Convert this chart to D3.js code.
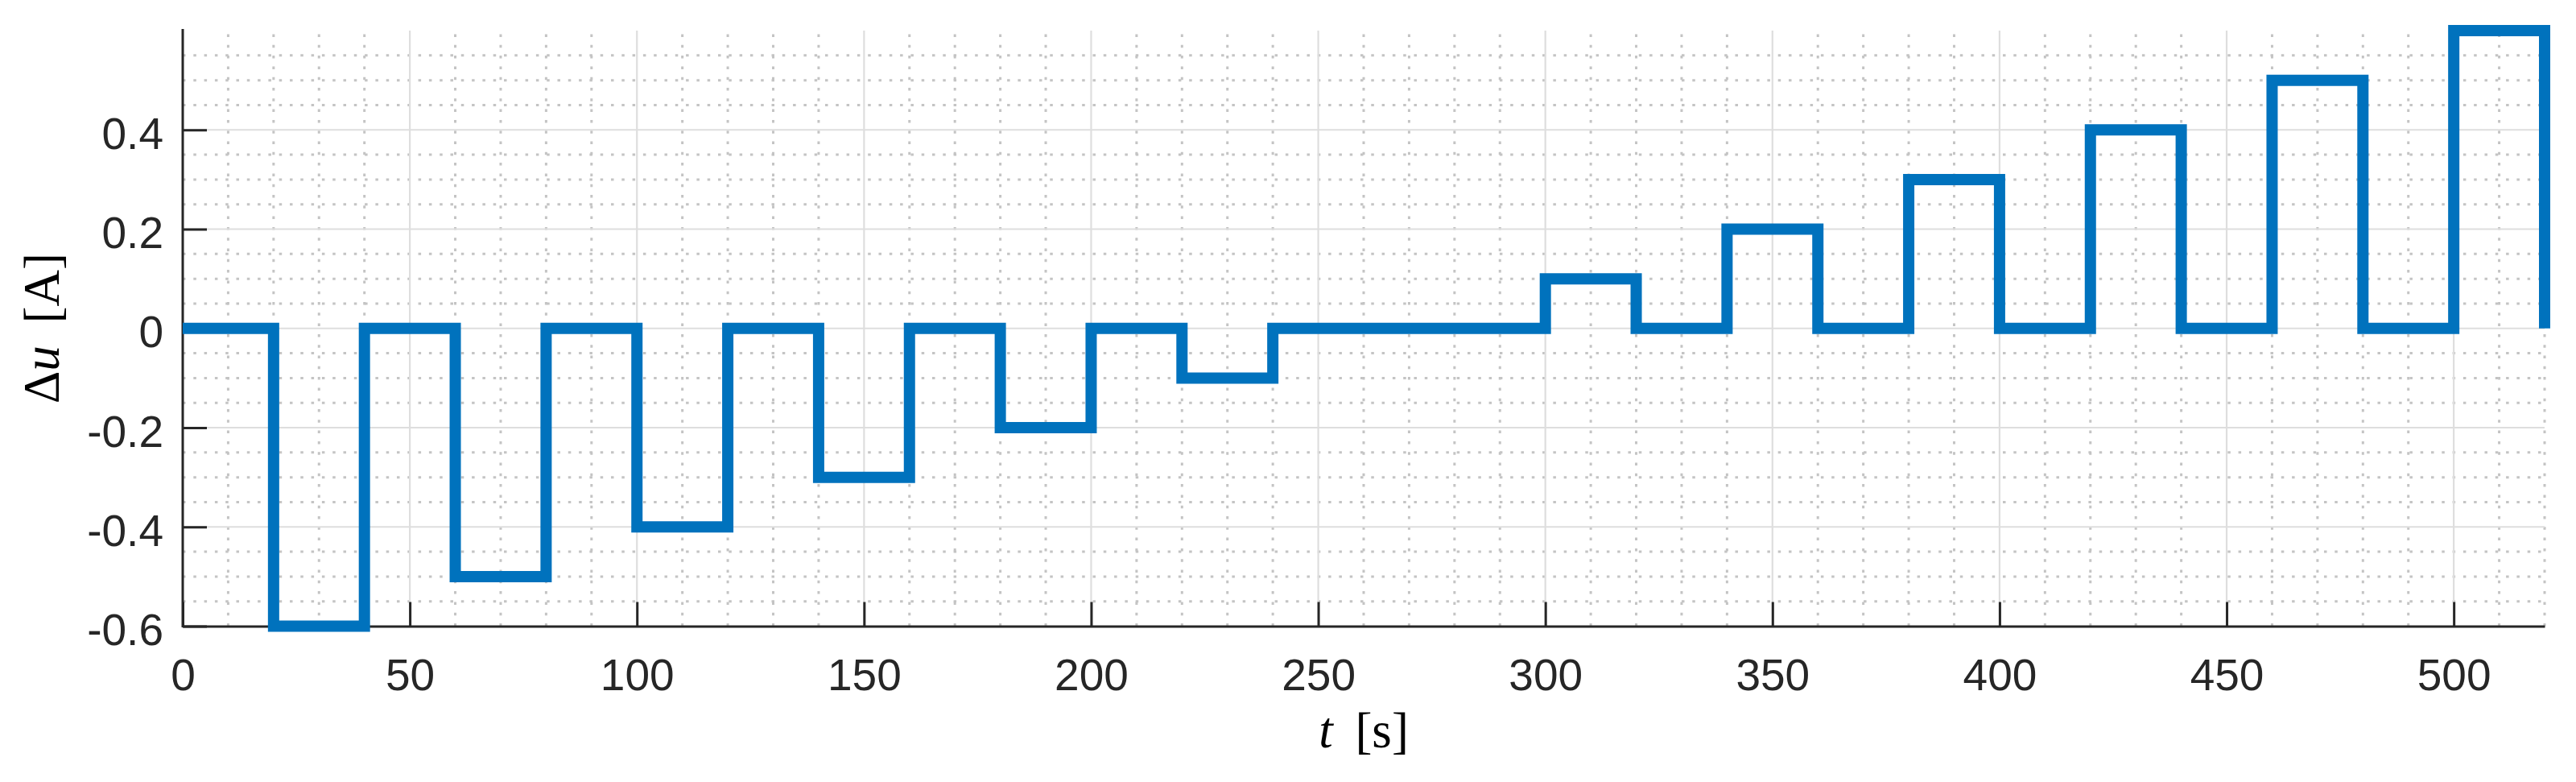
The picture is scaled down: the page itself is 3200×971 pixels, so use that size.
<!DOCTYPE html>
<html>
<head>
<meta charset="utf-8">
<script src="https://cdn.jsdelivr.net/npm/d3@7"></script>
<style>
  html, body { margin: 0; padding: 0; background: #fff; }
  svg { display: block; }
</style>
</head>
<body>
<svg id="chart" width="3200" height="971"></svg>
<script>
// ---- data ----
const times  = [0, 20, 40, 60, 80, 100, 120, 140, 160, 180, 200, 220, 240, 300, 320, 340, 360, 380, 400, 420, 440, 460, 480, 500, 520];
const values = [0, -0.6, 0, -0.5, 0, -0.4, 0, -0.3, 0, -0.2, 0, -0.1, 0, 0.1, 0, 0.2, 0, 0.3, 0, 0.4, 0, 0.5, 0, 0.6, 0];
const xTicks = [0, 50, 100, 150, 200, 250, 300, 350, 400, 450, 500];
const yTicks = [-0.6, -0.4, -0.2, 0, 0.2, 0.4];
const yTickLabels = ["-0.6", "-0.4", "-0.2", "0", "0.2", "0.4"];
const xMinor = d3.range(10, 521, 10).filter(v => v % 50 !== 0);
const yMinor = d3.range(-11, 13).map(i => +(i * 0.05).toFixed(2)).filter(v => Math.abs(Math.round(v * 100)) % 20 !== 0);
const yMajorGrid = [-0.4, -0.2, 0, 0.2, 0.4];
const xMajorGrid = [50, 100, 150, 200, 250, 300, 350, 400, 450, 500];

// ---- layout ----
const svg = d3.select("#chart");
const x = d3.scaleLinear().domain([0, 520]).range([227, 3161]);
const y = d3.scaleLinear().domain([-0.6, 0.6]).range([777.5, 38]);
const axisColor = "#262626";
const tickFont = "'Liberation Sans', Arial, Helvetica, sans-serif";
const serif = "'Liberation Serif', 'Times New Roman', serif";

// minor grid
const gMinor = svg.append("g");
gMinor.selectAll("line.mx").data(xMinor).join("line")
  .attr("x1", d => x(d)).attr("x2", d => x(d))
  .attr("y1", y(-0.6)).attr("y2", y(0.6))
  .attr("stroke", "#c4c4c4").attr("stroke-width", 3)
  .attr("stroke-dasharray", "3.5 9.8");
gMinor.selectAll("line.my").data(yMinor).join("line")
  .attr("x1", x(0)).attr("x2", x(520))
  .attr("y1", d => y(d)).attr("y2", d => y(d))
  .attr("stroke", "#c4c4c4").attr("stroke-width", 3)
  .attr("stroke-dasharray", "3.5 9.8");

// major grid
const gMajor = svg.append("g");
gMajor.selectAll("line.gx").data(xMajorGrid).join("line")
  .attr("x1", d => x(d)).attr("x2", d => x(d))
  .attr("y1", y(-0.6)).attr("y2", y(0.6))
  .attr("stroke", "#dedede").attr("stroke-width", 2.2);
gMajor.selectAll("line.gy").data(yMajorGrid).join("line")
  .attr("x1", x(0)).attr("x2", x(520))
  .attr("y1", d => y(d)).attr("y2", d => y(d))
  .attr("stroke", "#dedede").attr("stroke-width", 2.2);

// axes
const xAxis = d3.axisBottom(x).tickValues(xTicks).tickFormat(d3.format("d"))
  .tickSizeInner(-30).tickSizeOuter(0).tickPadding(40.5);
const gx = svg.append("g").attr("transform", `translate(0,${y(-0.6)})`).call(xAxis);
gx.select(".domain").attr("stroke", axisColor).attr("stroke-width", 3);
gx.selectAll(".tick line").attr("stroke", axisColor).attr("stroke-width", 3);
gx.selectAll(".tick text").attr("fill", axisColor)
  .style("font-family", tickFont).style("font-size", "55px");

const yAxis = d3.axisLeft(y).tickValues(yTicks).tickFormat((d, i) => yTickLabels[i])
  .tickSizeInner(-30).tickSizeOuter(0).tickPadding(24);
const gy = svg.append("g").attr("transform", `translate(${x(0)},0)`).call(yAxis);
gy.select(".domain").attr("stroke", axisColor).attr("stroke-width", 3)
  .attr("d", `M0,${y(-0.6) + 1.5}V36`);
gy.selectAll(".tick line").attr("stroke", axisColor).attr("stroke-width", 3);
gy.selectAll(".tick text").attr("fill", axisColor).attr("dy", "0.42em")
  .style("font-family", tickFont).style("font-size", "55px");

// axis titles
const xl = svg.append("text")
  .attr("x", (x(0) + x(520)) / 2).attr("y", 928)
  .attr("text-anchor", "middle")
  .style("font-family", serif).style("font-size", "63px").attr("fill", "#000");
xl.append("tspan").style("font-style", "italic").text("t");
xl.append("tspan").attr("dx", 12).text(" [s]");

const yl = svg.append("text")
  .attr("transform", `translate(73,${(y(-0.6) + y(0.6)) / 2}) rotate(-90)`)
  .attr("text-anchor", "middle")
  .style("font-family", serif).style("font-size", "63px").attr("fill", "#000");
yl.append("tspan").text("\u0394");
yl.append("tspan").style("font-style", "italic").text("u");
yl.append("tspan").attr("dx", 12).text(" [A]");

// data line
const pts = times.map((t, i) => [t, values[i]]);
const line = d3.line().x(d => x(d[0])).y(d => y(d[1])).curve(d3.curveStepAfter);
svg.append("path").datum(pts)
  .attr("d", line)
  .attr("fill", "none")
  .attr("stroke", "#0072BD")
  .attr("stroke-width", 14)
  .attr("stroke-linejoin", "miter")
  .attr("stroke-linecap", "butt");
</script>
</body>
</html>
